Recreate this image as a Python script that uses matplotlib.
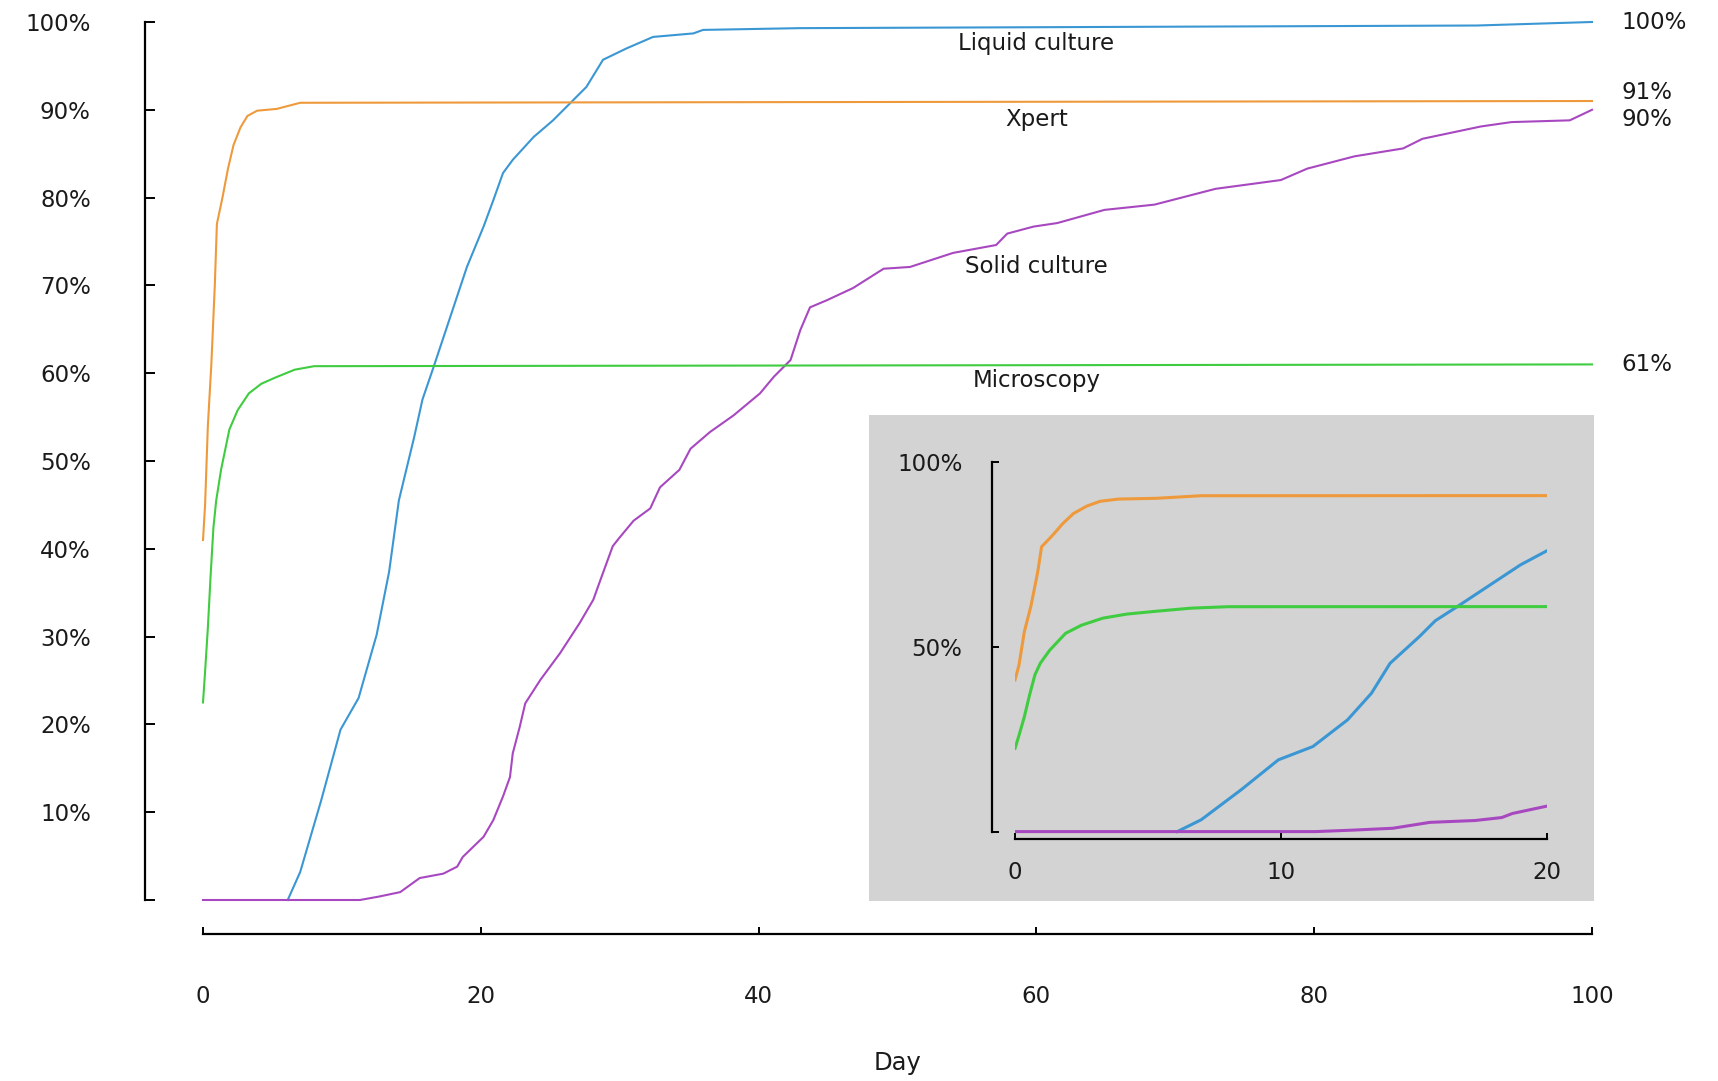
import matplotlib
matplotlib.use("Agg")
import matplotlib.pyplot as plt

plt.rcParams["font.family"] = ["DejaVu Sans"]

# cumulative share of positive results by day, per method (percent)
liquid_day = [6.1, 7.0, 8.5, 9.9, 11.2, 12.5, 13.4, 14.1, 15.2, 15.8, 16.6, 17.8, 19.0,
              20.2, 20.9, 21.6, 22.3, 23.8, 25.2, 26.4, 27.6, 28.8, 30.5, 32.4, 35.3,
              36.0, 43.0, 91.7, 100]
liquid_pct = [0, 3.2, 11.3, 19.4, 23.0, 30.2, 37.4, 45.5, 52.7, 57.0, 60.7, 66.4, 72.1,
              76.7, 79.7, 82.8, 84.3, 86.9, 88.8, 90.7, 92.6, 95.7, 97.0, 98.3, 98.7,
              99.1, 99.3, 99.6, 100]

xpert_day = [0, 0.15, 0.35, 0.6, 0.85, 1.0, 1.4, 1.8, 2.2, 2.7, 3.2, 3.9, 5.3, 7.0, 100]
xpert_pct = [41, 45, 54, 61, 70, 77, 80, 83.3, 86, 88, 89.3, 89.9, 90.1, 90.8, 91]

solid_day = [0, 11.3, 12.7, 14.2, 15.6, 17.3, 18.3, 18.7, 20.2, 20.9, 21.6, 22.1, 22.3,
             22.8, 23.2, 24.3, 25.7, 27.1, 28.1, 28.6, 29.5, 30.0, 31.0, 32.2, 32.9,
             34.3, 35.1, 36.5, 38.2, 40.1, 41.1, 42.3, 43.0, 43.7, 44.9, 46.8, 49.0,
             50.9, 54.0, 57.1, 57.9, 59.8, 61.5, 64.9, 68.5, 72.9, 77.6, 79.5, 82.9,
             86.4, 87.8, 92.0, 94.2, 98.4, 100]
solid_pct = [0, 0, 0.4, 0.9, 2.5, 3.0, 3.8, 4.9, 7.2, 9.1, 11.8, 14.0, 16.7,
             19.7, 22.4, 25.1, 28.1, 31.5, 34.2, 36.4, 40.3, 41.3, 43.2, 44.6, 47.0,
             49.0, 51.4, 53.3, 55.2, 57.7, 59.6, 61.5, 64.9, 67.5, 68.3, 69.7, 71.9,
             72.1, 73.7, 74.6, 75.9, 76.7, 77.1, 78.6, 79.2, 81.0, 82.0, 83.3, 84.7,
             85.6, 86.7, 88.1, 88.6, 88.8, 90]

micro_day = [0, 0.15, 0.35, 0.55, 0.75, 0.95, 1.3, 1.9, 2.5, 3.3, 4.2, 5.2, 6.6, 8.0, 100]
micro_pct = [22.5, 26, 31, 37, 42.4, 45.5, 49, 53.6, 55.8, 57.7, 58.8, 59.5, 60.4, 60.8, 61]

names = ["Liquid culture", "Xpert", "Solid culture", "Microscopy"]
days = [liquid_day, xpert_day, solid_day, micro_day]
pcts = [liquid_pct, xpert_pct, solid_pct, micro_pct]
colors = ["#3b97d3", "#ee9a3c", "#a848c0", "#40cc40"]

name_y = [97.5, 88.9, 72.1, 59.2]      # where the series names sit
end_shift = [0, 1.0, -1.1, 0]          # nudge for the end-value labels

W, H = 1718, 1081
PX = 72 / 100  # points per pixel at dpi 100
fig = plt.figure(figsize=(W / 100, H / 100), dpi=100)


def box(x0, y0, x1, y1):
    return [x0 / W, 1 - y1 / H, (x1 - x0) / W, (y1 - y0) / H]


FS = 16.5
TXT = "#1a1a1a"

# main chart
ax = fig.add_axes(box(203, 22, 1592, 900))
for d, p, c in zip(days, pcts, colors):
    ax.plot(d, p, color=c, lw=1.5, clip_on=False)
ax.set_xlim(0, 100)
ax.set_ylim(0, 100)
for s in ("top", "right"):
    ax.spines[s].set_visible(False)
ax.spines["left"].set_position(("outward", 58 * PX))
ax.spines["bottom"].set_position(("outward", 34 * PX))
ax.spines["left"].set_bounds(0, 100)
ax.spines["bottom"].set_bounds(0, 100)
for s in ("left", "bottom"):
    ax.spines[s].set_linewidth(1.6)

yt = list(range(0, 101, 10))
ax.set_yticks(yt)
ax.set_yticklabels(["" if v == 0 else f"{v}%" for v in yt])
ax.set_xticks(range(0, 101, 20))
ax.tick_params(axis="y", direction="in", length=10 * PX, width=1.4, pad=39,
               labelsize=FS, labelcolor=TXT)
ax.tick_params(axis="x", direction="in", length=7 * PX, width=1.4, pad=37,
               labelsize=FS, labelcolor=TXT)
ax.set_xlabel("Day", fontsize=17.5, color=TXT)
ax.xaxis.set_label_coords(0.5, -(1063 - 900) / 878)
ax.xaxis.label.set_va("center")

for n, ny, c in zip(names, name_y, colors):
    ax.text(60, ny, n, ha="center", va="center", fontsize=FS, color=TXT)
for p, dy in zip(pcts, end_shift):
    ax.text(102.1, p[-1] + dy, f"{p[-1]:g}%", ha="left", va="center",
            fontsize=FS, color=TXT, clip_on=False)

# inset: first 20 days
bg = fig.add_axes(box(869, 415, 1594, 901))
bg.set_facecolor("#d3d3d3")
bg.set_xticks([])
bg.set_yticks([])
for s in bg.spines.values():
    s.set_visible(False)

ins = fig.add_axes(box(1015, 461.7, 1547, 839))
ins.set_facecolor("none")
for d, p, c in zip(days, pcts, colors):
    ins.plot(d, p, color=c, lw=2.2)
ins.set_xlim(0, 20)
ins.set_ylim(-2, 100)
for s in ("top", "right"):
    ins.spines[s].set_visible(False)
ins.spines["left"].set_position(("outward", 23.5 * PX))
ins.spines["left"].set_bounds(0, 100)
ins.spines["bottom"].set_bounds(0, 20)
for s in ("left", "bottom"):
    ins.spines[s].set_linewidth(1.6)
ins.set_yticks([0, 50, 100])
ins.set_yticklabels(["", "50%", "100%"])
ins.set_xticks([0, 10, 20])
ins.tick_params(axis="y", direction="in", length=7 * PX, width=1.4, pad=21,
                labelsize=FS, labelcolor=TXT)
ins.tick_params(axis="x", direction="in", length=6 * PX, width=1.4, pad=16,
                labelsize=FS, labelcolor=TXT)

fig.savefig("out.png", dpi=100, facecolor="white")
